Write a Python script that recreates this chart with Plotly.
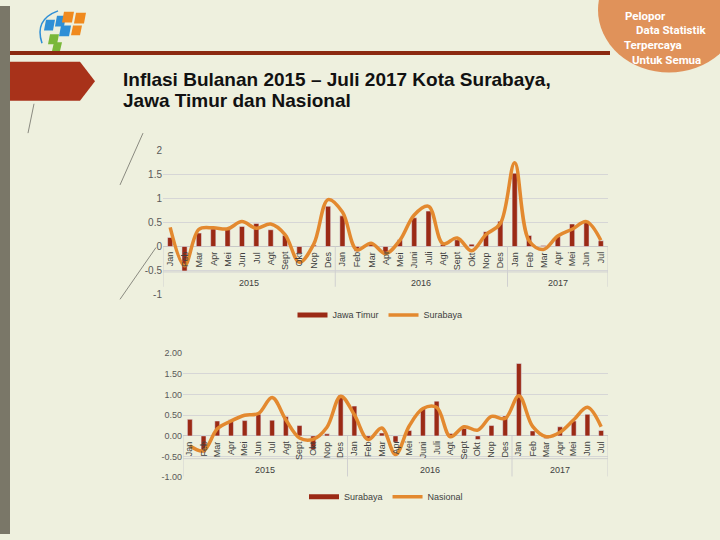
import plotly.graph_objects as go

# data
bulan = ["Jan", "Feb", "Mar", "Apr", "Mei", "Jun", "Jul", "Agt", "Sept", "Okt", "Nop", "Des",
         "Jan", "Feb", "Mar", "Apr", "Mei", "Juni", "Juli", "Agt", "Sept", "Okt", "Nop", "Des",
         "Jan", "Feb", "Mar", "Apr", "Mei", "Jun", "Jul"]
tahun = ["2015", "2016", "2017"]
bulan_per_tahun = [12, 12, 7]

jawa_timur = [0.19, -0.51, 0.28, 0.37, 0.37, 0.42, 0.48, 0.35, 0.23, -0.15, 0.03, 0.84,
              0.64, -0.10, 0.05, -0.12, 0.14, 0.60, 0.74, 0.04, 0.14, 0.05, 0.31, 0.53,
              1.53, 0.23, 0.02, 0.21, 0.47, 0.50, 0.12]
surabaya = [0.40, -0.40, 0.36, 0.39, 0.37, 0.52, 0.38, 0.47, 0.25, -0.33, 0.05, 0.98,
            0.72, -0.07, 0.07, -0.15, 0.13, 0.66, 0.84, 0.06, 0.18, -0.09, 0.25, 0.48,
            1.75, 0.12, -0.06, 0.22, 0.36, 0.52, 0.13]
nasional = [-0.24, -0.36, 0.17, 0.36, 0.50, 0.54, 0.93, 0.39, -0.05, -0.08, 0.21, 0.96,
            0.51, -0.09, 0.19, -0.45, 0.24, 0.66, 0.69, -0.02, 0.22, 0.14, 0.47, 0.42,
            0.97, 0.23, -0.02, 0.09, 0.39, 0.69, 0.22]

y_ticks = [-1, -0.5, 0, 0.5, 1, 1.5, 2]
y_label_atas = ["-1", "-0.5", "0", "0.5", "1", "1.5", "2"]
y_label_bawah = ["-1.00", "-0.50", "0.00", "0.50", "1.00", "1.50", "2.00"]

judul = ["Inflasi Bulanan 2015 – Juli 2017 Kota Surabaya,", "Jawa Timur dan Nasional"]
slogan = ["Pelopor", "Data Statistik", "Terpercaya", "Untuk Semua"]

MERAH = "#9b2a15"
ORANYE = "#e3892f"
ABU = "#595959"
W, H = 720, 540


def px(x):
    return x / W


def py(y):
    return 1 - y / H


idx = list(range(len(bulan)))
fig = go.Figure()

# chart atas: Jawa Timur vs Surabaya
fig.add_trace(go.Bar(x=idx, y=jawa_timur, marker_color=MERAH, width=0.36,
                     xaxis="x", yaxis="y", showlegend=False))
fig.add_trace(go.Scatter(x=idx, y=surabaya, mode="lines", line=dict(color=ORANYE, width=3.5, shape="spline", smoothing=1),
                         xaxis="x", yaxis="y", showlegend=False))
fig.add_trace(go.Scatter(x=[None], y=[None], mode="lines", name="Jawa Timur",
                         line=dict(color=MERAH, width=5), legend="legend"))
fig.add_trace(go.Scatter(x=[None], y=[None], mode="lines", name="Surabaya",
                         line=dict(color=ORANYE, width=3.5), legend="legend"))

# chart bawah: Surabaya vs Nasional
fig.add_trace(go.Bar(x=idx, y=surabaya, marker_color=MERAH, width=0.36,
                     xaxis="x2", yaxis="y2", showlegend=False))
fig.add_trace(go.Scatter(x=idx, y=nasional, mode="lines", line=dict(color=ORANYE, width=3.5, shape="spline", smoothing=1),
                         xaxis="x2", yaxis="y2", showlegend=False))
fig.add_trace(go.Scatter(x=[None], y=[None], mode="lines", name="Surabaya",
                         line=dict(color=MERAH, width=5), legend="legend2", xaxis="x2", yaxis="y2"))
fig.add_trace(go.Scatter(x=[None], y=[None], mode="lines", name="Nasional",
                         line=dict(color=ORANYE, width=3.5), legend="legend2", xaxis="x2", yaxis="y2"))

shapes = []
annotations = []

# dekorasi slide
shapes.append(dict(type="rect", xref="paper", yref="paper", x0=0, x1=px(10), y0=0, y1=1,
                   fillcolor="#7a7768", line_width=0, layer="below"))
shapes.append(dict(type="line", xref="paper", yref="paper", x0=px(10), x1=px(610), y0=py(48), y1=py(48),
                   line=dict(color="#8b2a10", width=4)))
shapes.append(dict(type="path", xref="paper", yref="paper",
                   path=f"M {px(10)},{py(57)} L {px(80)},{py(57)} L {px(95)},{py(77)} L {px(80)},{py(97)} L {px(10)},{py(97)} Z",
                   fillcolor="#a8321a", line_width=0))
shapes.append(dict(type="circle", xref="paper", yref="paper", x0=px(598), x1=px(740), y0=py(68), y1=py(-60),
                   fillcolor="#e0925a", line_width=0))
for (x0, y0, x1, y1) in [(120, 300, 156, 247), (120, 183, 143, 130), (28, 130, 34, 100)]:
    shapes.append(dict(type="line", xref="paper", yref="paper", x0=px(x0), y0=py(y0), x1=px(x1), y1=py(y1),
                       line=dict(color="#8a8a80", width=1), layer="below"))
# logo
for (x0, y0, w, h, c) in [(44, 14, 9, 11, "#2e8fd6"), (55, 10, 9, 11, "#2e8fd6"), (62, 6, 10, 11, "#f08a1e"),
                          (74, 7, 10, 11, "#f08a1e"), (59, 20, 10, 11, "#2e8fd6"), (71, 20, 9, 10, "#f08a1e"),
                          (48, 29, 9, 10, "#7ab83a"), (52, 37, 8, 9, "#7ab83a")]:
    shapes.append(dict(type="path", xref="paper", yref="paper",
                       path=f"M {px(x0+2)},{py(y0)} L {px(x0+w+2)},{py(y0)} L {px(x0+w)},{py(y0+h)} L {px(x0)},{py(y0+h)} Z",
                       fillcolor=c, line_width=0))
shapes.append(dict(type="path", xref="paper", yref="paper",
                   path=f"M {px(42)},{py(38)} Q {px(34)},{py(14)} {px(58)},{py(5)}",
                   line=dict(color="#2e8fd6", width=1.5)))

for teks, y in zip(judul, [75, 97]):
    annotations.append(dict(text=teks, xref="paper", yref="paper", x=px(121), y=py(y), xanchor="left",
                            yanchor="middle", showarrow=False,
                            font=dict(family="Liberation Sans", size=19, color="#111111", weight="bold")))
for teks, x, y in zip(slogan, [623, 634, 622, 630], [10, 25, 40, 55]):
    annotations.append(dict(text=teks, xref="paper", yref="paper", x=px(x), y=py(y), xanchor="left", yanchor="middle",
                            showarrow=False,
                            font=dict(family="Roboto", size=11.5, color="white", weight="bold")))


def kategori(xa, ya, y_atas, y_tahun, y_bawah):
    # label bulan, label tahun dan garis pemisah untuk sumbu kategori bertingkat
    for i, b in enumerate(bulan):
        annotations.append(dict(text=b, x=i, y=0, xref=xa, yref=ya, textangle=-90, xanchor="center", yanchor="top",
                                yshift=-3, showarrow=False, font=dict(family="Liberation Sans", size=9, color="#404040")))
    mulai = -0.5
    for t, n in zip(tahun, bulan_per_tahun):
        annotations.append(dict(text=t, x=mulai + n / 2, y=y_tahun, xref=xa, yref=ya, showarrow=False,
                                font=dict(family="Liberation Sans", size=9, color="#404040")))
        shapes.append(dict(type="line", xref=xa, yref=ya, x0=mulai, x1=mulai, y0=0, y1=y_bawah,
                           line=dict(color="#d0d0d0", width=1)))
        mulai += n
    shapes.append(dict(type="line", xref=xa, yref=ya, x0=mulai, x1=mulai, y0=0, y1=y_bawah,
                       line=dict(color="#d0d0d0", width=1)))
    shapes.append(dict(type="line", xref=xa, yref=ya, x0=-0.5, x1=mulai, y0=y_atas, y1=y_atas,
                       line=dict(color="#d0d0d0", width=1)))


kategori("x", "y", -0.53, -0.76, -0.84)
kategori("x2", "y2", -0.55, -0.83, -0.98)

sumbu_x = dict(range=[-0.5, len(bulan) - 0.5], showticklabels=False, showgrid=False, zeroline=False, fixedrange=True)
fig.update_layout(
    width=W, height=H, margin=dict(l=0, r=0, t=0, b=0),
    paper_bgcolor="#eef0de", plot_bgcolor="rgba(0,0,0,0)",
    shapes=shapes, annotations=annotations, barmode="overlay",
    xaxis=dict(sumbu_x, domain=[px(163), px(608)], anchor="y"),
    yaxis=dict(domain=[py(295), py(148)], range=[-1, 2], tickvals=y_ticks, ticktext=y_label_atas,
               gridcolor="#d6d6d6", zeroline=True, zerolinecolor="#c8c8c8", zerolinewidth=1,
               tickfont=dict(family="Liberation Sans", size=10, color=ABU), anchor="x"),
    xaxis2=dict(sumbu_x, domain=[px(183), px(608)], anchor="y2"),
    yaxis2=dict(domain=[py(482), py(355)], range=[-1, 2], tickvals=y_ticks, ticktext=y_label_bawah,
                gridcolor="#d6d6d6", zeroline=True, zerolinecolor="#c8c8c8", zerolinewidth=1,
                tickfont=dict(family="Liberation Sans", size=9, color=ABU), anchor="x2"),
    legend=dict(orientation="h", x=px(380), y=py(316), xanchor="center", yanchor="middle",
                bgcolor="rgba(0,0,0,0)", font=dict(family="Liberation Sans", size=9, color="#404040"),
                itemwidth=30),
    legend2=dict(orientation="h", x=px(386), y=py(502), xanchor="center", yanchor="middle",
                 bgcolor="rgba(0,0,0,0)", font=dict(family="Liberation Sans", size=9, color="#404040"),
                 itemwidth=30),
)

fig.write_html("out.html", config={"displayModeBar": False},
               post_script="document.body.style.margin='0px';")
